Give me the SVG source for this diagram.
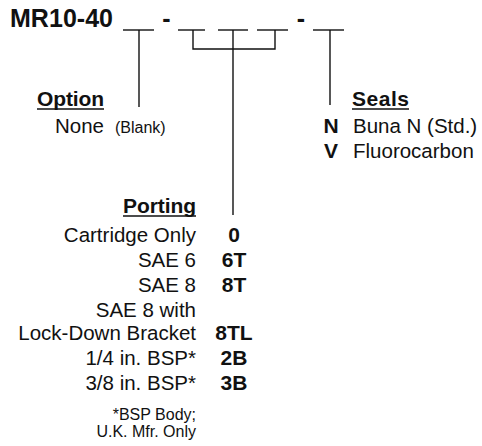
<svg xmlns="http://www.w3.org/2000/svg" width="482" height="446" viewBox="0 0 482 446">
<style>
text{font-family:"Liberation Sans",Arial,sans-serif;fill:#111}
.b{font-weight:bold}
.r{font-size:20.5px}
.h{font-size:21px;font-weight:bold}
.s{font-size:16px}
.end{text-anchor:end}
.mid{text-anchor:middle}
line{stroke:#111;stroke-width:1.4;fill:none}
.u{stroke-width:1.6}
</style>
<rect width="482" height="446" fill="#fff"/>
<g id="title">
<text x="10" y="27" class="b" font-size="25" textLength="103">MR10-40</text>
<text x="166.5" y="27" class="b mid" font-size="25">-</text>
<text x="301" y="27" class="b mid" font-size="25">-</text>
</g>
<g id="connectors">
<line x1="123" y1="30" x2="154" y2="30"/>
<line x1="178" y1="30" x2="205" y2="30"/>
<line x1="218" y1="30" x2="248" y2="30"/>
<line x1="257" y1="30" x2="288" y2="30"/>
<line x1="313" y1="30" x2="344" y2="30"/>
<line x1="139" y1="30" x2="139" y2="107"/>
<line x1="330" y1="30" x2="330" y2="105"/>
<line x1="233" y1="30" x2="233" y2="215"/>
<polyline points="193,30 193,49 275,49 275,30" fill="none" stroke="#111" stroke-width="1.4"/>
</g>
<g id="option">
<text x="37" y="106" class="h" textLength="67">Option</text>
<line class="u" x1="37" y1="109" x2="104" y2="109"/>
<text x="55" y="133" class="r">None</text>
<text x="115" y="133" class="s">(Blank)</text>
</g>
<g id="seals">
<text x="352" y="106" class="h" textLength="57">Seals</text>
<line class="u" x1="352" y1="109" x2="409" y2="109"/>
<text x="331" y="133" class="h mid">N</text>
<text x="353" y="133" class="r">Buna N (Std.)</text>
<text x="331" y="158" class="h mid">V</text>
<text x="353" y="158" class="r">Fluorocarbon</text>
</g>
<g id="porting">
<text x="196" y="213" class="h end" textLength="73">Porting</text>
<line class="u" x1="123" y1="216" x2="196" y2="216"/>
<text x="196" y="242" class="r end">Cartridge Only</text>
<text x="196" y="267" class="r end">SAE 6</text>
<text x="196" y="292" class="r end">SAE 8</text>
<text x="196" y="317" class="r end">SAE 8 with</text>
<text x="196" y="340" class="r end">Lock-Down Bracket</text>
<text x="196" y="365" class="r end">1/4 in. BSP*</text>
<text x="196" y="390" class="r end">3/8 in. BSP*</text>
<text x="234" y="242" class="h mid">0</text>
<text x="234" y="267" class="h mid">6T</text>
<text x="234" y="292" class="h mid">8T</text>
<text x="234" y="340" class="h mid">8TL</text>
<text x="234" y="365" class="h mid">2B</text>
<text x="234" y="390" class="h mid">3B</text>
<text x="196" y="420" class="s end">*BSP Body;</text>
<text x="196" y="437" class="s end">U.K. Mfr. Only</text>
</g>
</svg>
